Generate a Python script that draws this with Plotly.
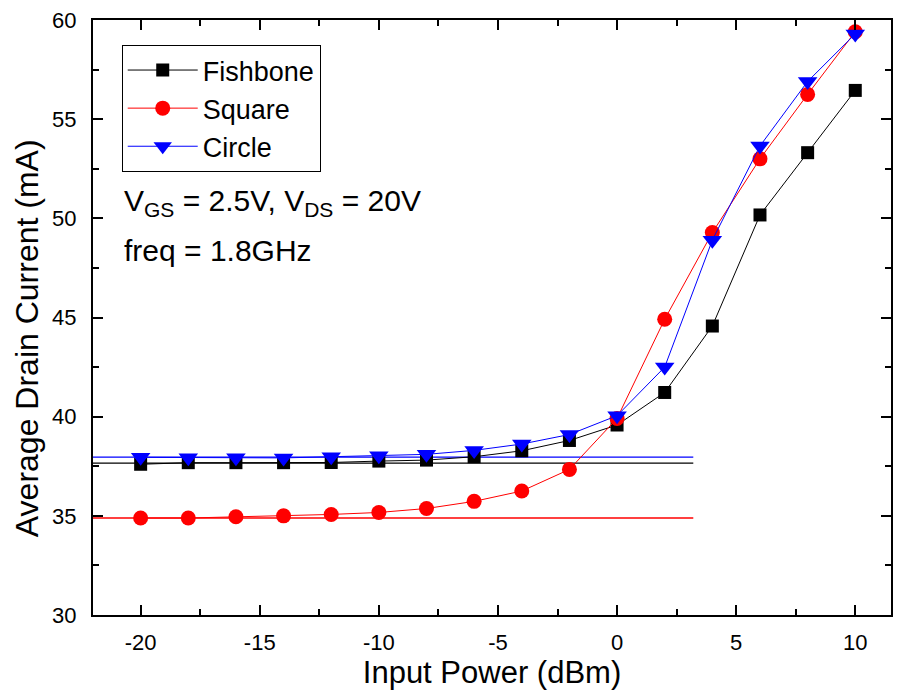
import plotly.graph_objects as go

x_pin = [-20, -18, -16, -14, -12, -10, -8, -6, -4, -2, 0, 2, 4, 6, 8, 10]
fishbone = [37.60, 37.68, 37.68, 37.68, 37.69, 37.76, 37.81, 37.98, 38.28, 38.80, 39.58, 41.22, 44.57, 50.17, 53.31, 56.45]
square = [34.89, 34.89, 34.95, 35.00, 35.07, 35.17, 35.37, 35.73, 36.25, 37.34, 39.91, 44.91, 49.28, 53.00, 56.25, 59.41]
circle = [37.95, 37.93, 37.93, 37.92, 37.98, 38.03, 38.10, 38.30, 38.62, 39.10, 40.05, 42.50, 48.90, 53.65, 56.90, 59.30]

baseline_x = [-22, 3.2]
baseline_fishbone = 37.66
baseline_square = 34.89
baseline_circle = 37.96

x_tickvals = [-20, -15, -10, -5, 0, 5, 10]
x_ticktext = ["-20", "-15", "-10", "-5", "0", "5", "10"]
y_tickvals = [30, 35, 40, 45, 50, 55, 60]
y_ticktext = ["30", "35", "40", "45", "50", "55", "60"]

names = ["Fishbone", "Square", "Circle"]
colors = ["#000000", "#FF0000", "#0000FF"]
symbols = ["square", "circle", "triangle-down"]
sizes = [13, 15, 17]
series = [fishbone, square, circle]
baselines = [baseline_fishbone, baseline_square, baseline_circle]

FONT = "Liberation Sans, Arial"

fig = go.Figure()
for name, c, b in zip(names, colors, baselines):
    fig.add_trace(go.Scatter(x=baseline_x, y=[b, b], mode="lines",
                             line=dict(color=c, width=1.3), showlegend=False,
                             hoverinfo="skip"))
for name, c, s, sz, ys in zip(names, colors, symbols, sizes, series):
    fig.add_trace(go.Scatter(x=x_pin, y=ys, mode="lines+markers", name=name,
                             line=dict(color=c, width=1),
                             marker=dict(symbol=s, size=sz, color=c, line=dict(width=0))))

axis_common = dict(showline=True, linecolor="black", linewidth=2, mirror="ticks",
                   ticks="inside", ticklen=10, tickwidth=2, tickcolor="black",
                   showgrid=False, zeroline=False,
                   tickfont=dict(family=FONT, size=22, color="black"))

fig.update_xaxes(range=[-22, 11.5], tickmode="array", tickvals=x_tickvals, ticktext=x_ticktext,
                 minor=dict(ticks="inside", ticklen=6, tickwidth=1.5, dtick=2.5, tick0=-20, tickcolor="black"),
                 title=dict(text="Input Power (dBm)", font=dict(family=FONT, size=31, color="black"), standoff=2),
                 ticklabelstandoff=7,
                 **axis_common)
fig.update_yaxes(range=[30, 60], tickmode="array", tickvals=y_tickvals, ticktext=y_ticktext,
                 minor=dict(ticks="inside", ticklen=6, tickwidth=1.5, dtick=2.5, tick0=30, tickcolor="black"),
                 ticklabelstandoff=10,
                 **axis_common)

# y-axis title (placed as rotated text to match the reference's vertical offset)
fig.add_annotation(xref="paper", yref="paper", x=(27 - 93) / 800, y=1 - (338 - 20) / 595,
                   xanchor="center", yanchor="middle", showarrow=False, textangle=-90,
                   text="Average Drain Current (mA)",
                   font=dict(family=FONT, size=32, color="black"))

fig.add_annotation(xref="paper", yref="paper", x=0.036, y=1 - (223 - 20) / 595,
                   xanchor="left", yanchor="bottom", showarrow=False,
                   text="V<sub>GS</sub> = 2.5V, V<sub>DS</sub> = 20V",
                   font=dict(family=FONT, size=30, color="black"))
fig.add_annotation(xref="paper", yref="paper", x=0.036, y=1 - (269 - 20) / 595,
                   xanchor="left", yanchor="bottom", showarrow=False,
                   text="freq = 1.8GHz",
                   font=dict(family=FONT, size=30, color="black"))

fig.update_layout(
    width=900, height=691,
    margin=dict(l=93, r=7, t=20, b=76),
    paper_bgcolor="white", plot_bgcolor="white",
    legend=dict(x=0.036, y=0.958, xanchor="left", yanchor="top",
                bordercolor="black", borderwidth=1, bgcolor="white",
                font=dict(family=FONT, size=27, color="black"),
                itemwidth=70, tracegroupgap=0),
)

fig.write_html("out.html")
